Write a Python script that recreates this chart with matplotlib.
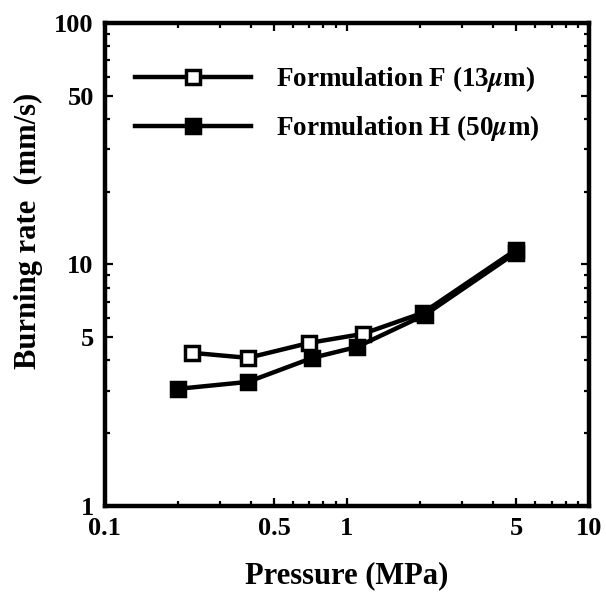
import matplotlib
matplotlib.use("Agg")
import matplotlib.pyplot as plt
from matplotlib.ticker import FixedLocator, NullFormatter, FixedFormatter

# Data
pressure_F = [0.23, 0.39, 0.70, 1.16, 2.06, 5.0]
rate_F = [4.30, 4.10, 4.73, 5.15, 6.30, 11.5]
pressure_H = [0.20, 0.39, 0.72, 1.10, 2.10, 5.0]
rate_H = [3.05, 3.26, 4.10, 4.55, 6.18, 11.2]
label_F = r"Formulation F (13$\mu$m)"
label_H = r"Formulation H (50$\mu$m)"

x_major = [0.1, 0.5, 1, 5, 10]
x_major_labels = ["0.1", "0.5", "1", "5", "10"]
x_minor = [0.2, 0.3, 0.4, 0.6, 0.7, 0.8, 0.9, 2, 3, 4, 6, 7, 8, 9]
y_major = [1, 5, 10, 50, 100]
y_major_labels = ["1", "5", "10", "50", "100"]
y_minor = [2, 3, 4, 6, 7, 8, 9, 20, 30, 40, 60, 70, 80, 90]

plt.rcParams["font.family"] = ["Liberation Serif", "DejaVu Serif"]
plt.rcParams["font.weight"] = "bold"
plt.rcParams["mathtext.fontset"] = "stix"

fig = plt.figure(figsize=(6.06, 6.05), dpi=100)
ax = fig.add_axes([0.173, 0.164, 0.799, 0.798])

ax.plot(pressure_F, rate_F, color="black", lw=3.2, marker="s", ms=9.5,
        mfc="white", mec="black", mew=2.5, label=label_F, zorder=3)
ax.plot(pressure_H, rate_H, color="black", lw=3.2, marker="s", ms=9.5,
        mfc="black", mec="black", mew=2.5, label=label_H, zorder=4)

ax.set_xscale("log")
ax.set_yscale("log")
ax.set_xlim(0.1, 10)
ax.set_ylim(1, 100)

ax.xaxis.set_major_locator(FixedLocator(x_major))
ax.xaxis.set_major_formatter(FixedFormatter(x_major_labels))
ax.xaxis.set_minor_locator(FixedLocator(x_minor))
ax.xaxis.set_minor_formatter(NullFormatter())
ax.yaxis.set_major_locator(FixedLocator(y_major))
ax.yaxis.set_major_formatter(FixedFormatter(y_major_labels))
ax.yaxis.set_minor_locator(FixedLocator(y_minor))
ax.yaxis.set_minor_formatter(NullFormatter())

ax.tick_params(which="both", direction="in", top=True, right=True, width=1.6)
ax.tick_params(which="major", length=6, labelsize=19, pad=8)
ax.tick_params(which="minor", length=3.5)

for s in ax.spines.values():
    s.set_linewidth(3.2)

ax.set_xlabel("Pressure (MPa)", fontsize=22, fontweight="bold")
ax.xaxis.set_label_coords(0.5, -0.115)
ax.set_ylabel("Burning rate  (mm/s)", fontsize=22, fontweight="bold")
ax.yaxis.set_label_coords(-0.128, 0.57)

ax.legend(loc="upper left", bbox_to_anchor=(0.062, 0.915), frameon=False,
          fontsize=19.5, handlelength=4.3, handletextpad=0.9,
          labelspacing=0.7, borderpad=0, borderaxespad=0)

fig.savefig("out.png", dpi=100)
